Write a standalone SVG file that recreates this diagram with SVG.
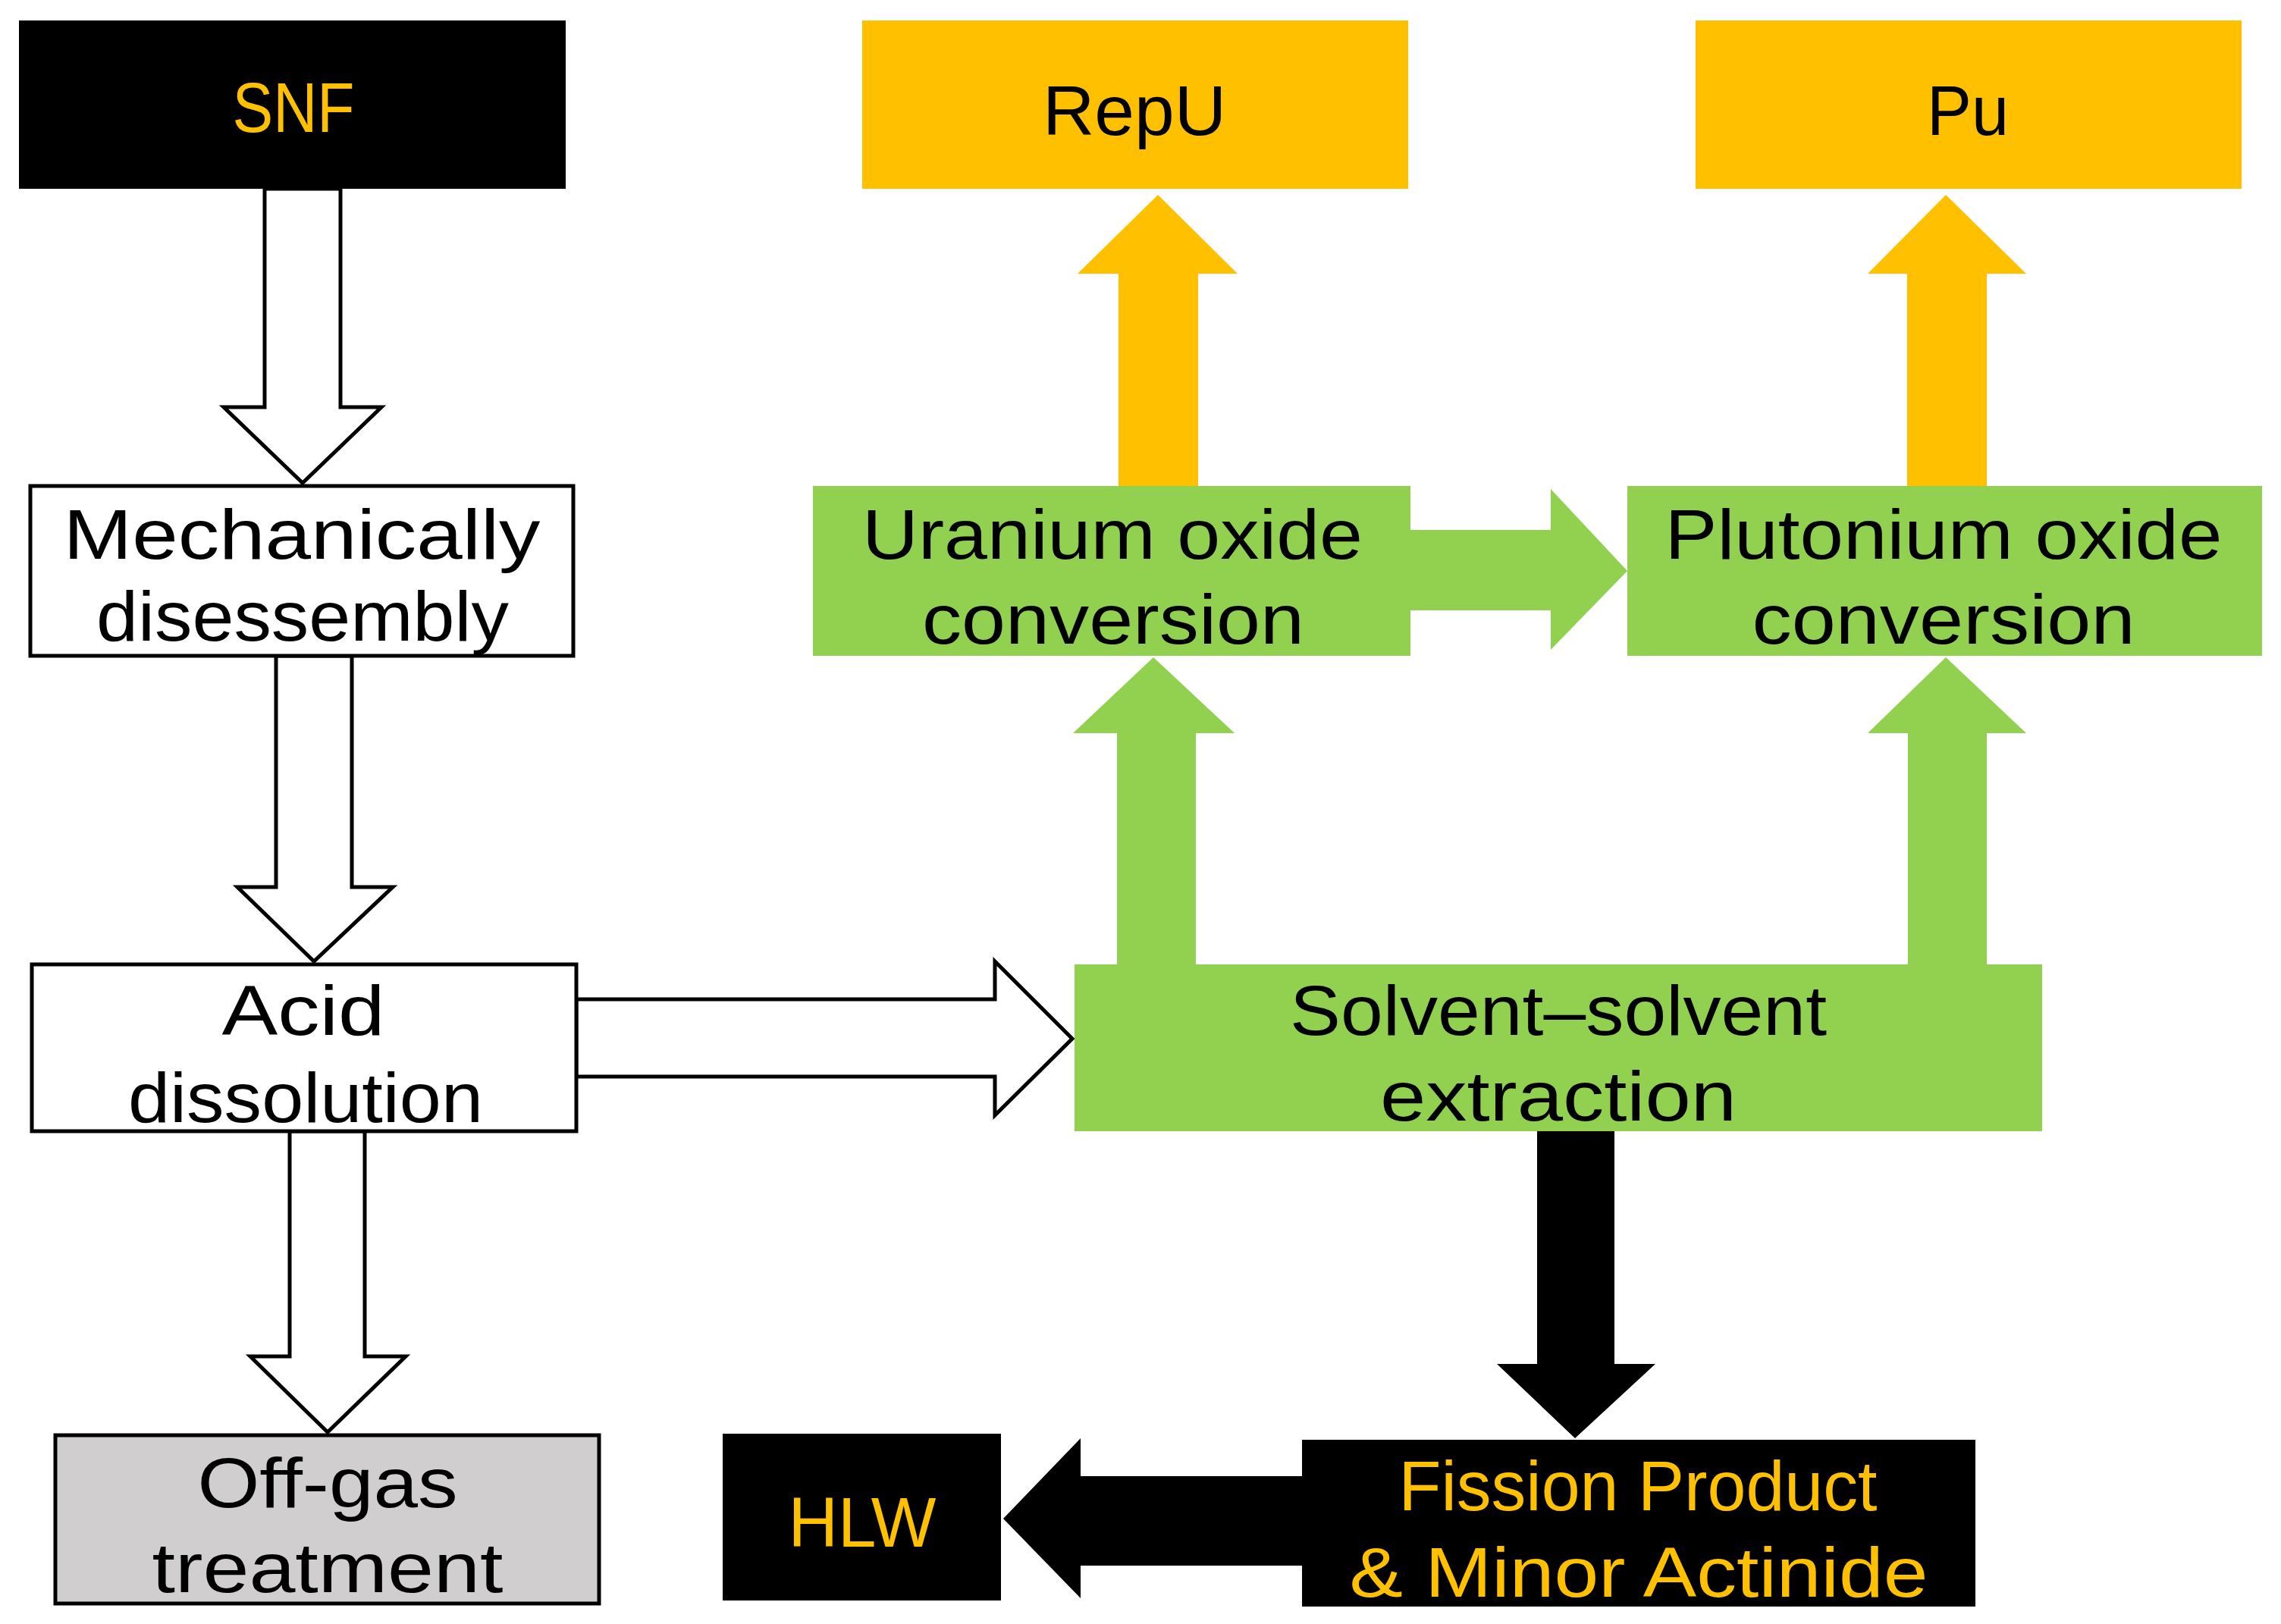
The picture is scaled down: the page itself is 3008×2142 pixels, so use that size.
<svg xmlns="http://www.w3.org/2000/svg" width="3008" height="2142" viewBox="0 0 3008 2142">
<style>
text{font-family:"Liberation Sans","DejaVu Sans",sans-serif;font-size:92px;text-anchor:middle}
.y{fill:#ffc000}.k{fill:#000}
.hol{fill:#fff;stroke:#000;stroke-width:5;stroke-linejoin:miter}
.g{fill:#92d050}.o{fill:#ffc000}.b{fill:#000}
.box{stroke:#000;stroke-width:5}
</style>
<rect width="3008" height="2142" fill="#fff"/>
<g id="connectors">
<polygon class="hol" points="349,249 449,249 449,537 503,537 399,637 295,537 349,537"/>
<polygon class="hol" points="364,865 464,865 464,1170 518,1170 414,1268 313,1170 364,1170"/>
<polygon class="hol" points="382,1492 481,1492 481,1789 535,1789 432,1889 330,1789 382,1789"/>
<polygon class="hol" points="760,1318 1312,1318 1312,1268 1414,1370 1312,1471 1312,1420 760,1420"/>
<polygon class="g" points="1473,1280 1473,967 1415,967 1521,867 1628,967 1577,967 1577,1280"/>
<polygon class="g" points="2516,1280 2516,967 2463,967 2566,867 2672,967 2620,967 2620,1280"/>
<polygon class="g" points="1855,699 2045,699 2045,645 2146,753 2045,857 2045,805 1855,805"/>
<polygon class="o" points="1475,645 1475,361 1421,361 1527,257 1632,361 1580,361 1580,645"/>
<polygon class="o" points="2515,645 2515,361 2463,361 2566,257 2672,361 2620,361 2620,645"/>
<polygon class="b" points="2027,1485 2129,1485 2129,1799 2183,1799 2077,1897 1974,1799 2027,1799"/>
<polygon class="b" points="1722,1947 1425,1947 1425,1897 1323,2003 1425,2108 1425,2065 1722,2065"/>
</g>
<g id="snf"><rect x="25" y="27" width="721" height="222" fill="#000"/><text class="y" x="387" y="174" textLength="161" lengthAdjust="spacingAndGlyphs">SNF</text></g>
<g id="repu"><rect x="1137" y="27" width="720" height="222" fill="#ffc000"/><text class="k" x="1496" y="178" textLength="242" lengthAdjust="spacingAndGlyphs">RepU</text></g>
<g id="pu"><rect x="2236" y="27" width="720" height="222" fill="#ffc000"/><text class="k" x="2595" y="178" textLength="108" lengthAdjust="spacingAndGlyphs">Pu</text></g>
<g id="mech"><rect class="box" x="40" y="641" width="716" height="224" fill="#fff"/><text class="k" x="398" y="737" textLength="629" lengthAdjust="spacingAndGlyphs">Mechanically</text><text class="k" x="399" y="845" textLength="544" lengthAdjust="spacingAndGlyphs">disessembly</text></g>
<g id="acid"><rect class="box" x="42" y="1272" width="718" height="220" fill="#fff"/><text class="k" x="400" y="1365" textLength="215" lengthAdjust="spacingAndGlyphs">Acid</text><text class="k" x="403" y="1480" textLength="468" lengthAdjust="spacingAndGlyphs">dissolution</text></g>
<g id="offgas"><rect class="box" x="73" y="1893" width="717" height="222" fill="#d0cece"/><text class="k" x="432" y="1988" textLength="343" lengthAdjust="spacingAndGlyphs">Off-gas</text><text class="k" x="432" y="2100" textLength="463" lengthAdjust="spacingAndGlyphs">treatment</text></g>
<g id="uranium"><rect x="1072" y="641" width="788" height="224" fill="#92d050"/><text class="k" x="1467" y="737" textLength="660" lengthAdjust="spacingAndGlyphs">Uranium oxide</text><text class="k" x="1468" y="849" textLength="504" lengthAdjust="spacingAndGlyphs">conversion</text></g>
<g id="plutonium"><rect x="2146" y="641" width="837" height="224" fill="#92d050"/><text class="k" x="2563" y="737" textLength="735" lengthAdjust="spacingAndGlyphs">Plutonium oxide</text><text class="k" x="2563" y="849" textLength="505" lengthAdjust="spacingAndGlyphs">conversion</text></g>
<g id="solvent"><rect x="1417" y="1272" width="1276" height="220" fill="#92d050"/><text class="k" x="2055" y="1365" textLength="708" lengthAdjust="spacingAndGlyphs">Solvent–solvent</text><text class="k" x="2055" y="1478" textLength="470" lengthAdjust="spacingAndGlyphs">extraction</text></g>
<g id="hlw"><rect x="953" y="1891" width="367" height="220" fill="#000"/><text class="y" x="1137" y="2040" textLength="195" lengthAdjust="spacingAndGlyphs">HLW</text></g>
<g id="fission"><rect x="1717" y="1899" width="888" height="220" fill="#000"/><text class="y" x="2160" y="1992" textLength="631" lengthAdjust="spacingAndGlyphs">Fission Product</text><text class="y" x="2161" y="2106" textLength="763" lengthAdjust="spacingAndGlyphs">&amp; Minor Actinide</text></g>
</svg>
